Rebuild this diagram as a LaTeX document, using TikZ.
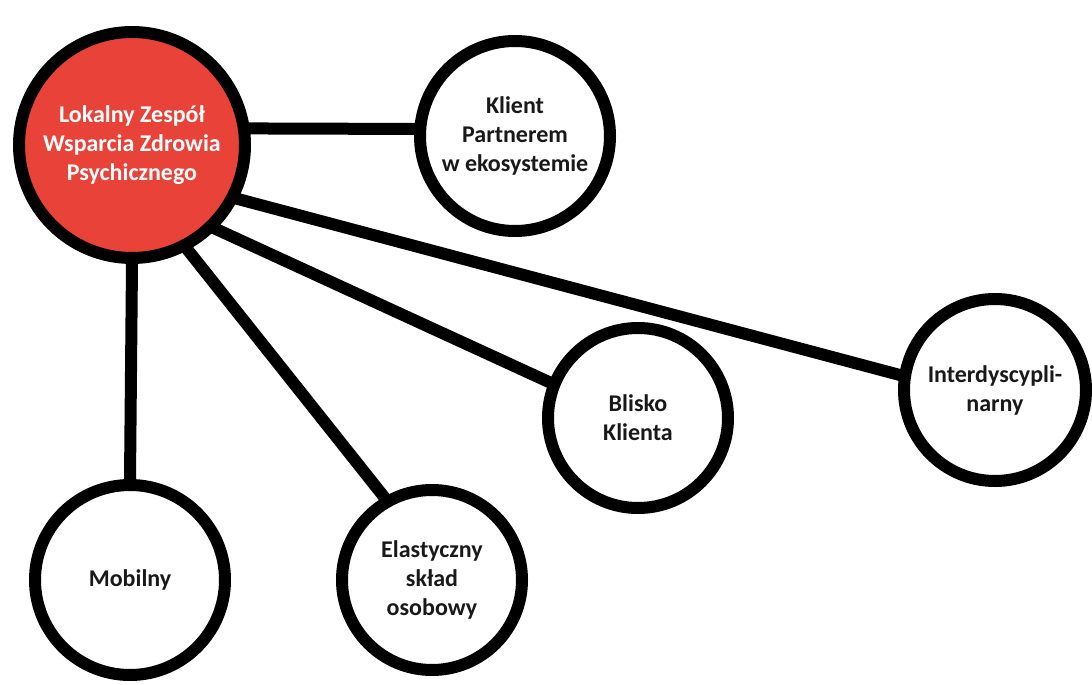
\documentclass[tikz,border=0pt]{standalone}
\usepackage{fontspec}
\setmainfont{Carlito}
\usetikzlibrary{backgrounds}
\definecolor{hubred}{RGB}{233,67,57}
\begin{document}
\begin{tikzpicture}[x=1pt,y=-1pt,
  bub/.style={circle,draw=black,line width=12pt,fill=white,align=center,
    font=\fontsize{24}{29}\selectfont\bfseries,text=black!90,inner sep=0pt},
  link/.style={line width=12pt,draw=black,shorten >=-8pt,shorten <=-8pt}]
\useasboundingbox (0,0) rectangle (1092,685);
\node[bub,fill=hubred,text=white,minimum size=226pt] (c) at (132,145) {Lokalny Zespół\\Wsparcia Zdrowia\\Psychicznego};
\node[bub,minimum size=190pt] (k) at (515,136) {Klient\\Partnerem\\w ekosystemie};
\node[bub,minimum size=182pt] (i) at (995,390) {Interdyscypli-\\narny};
\node[bub,minimum size=180pt] (b) at (638,418) {Blisko\\Klienta};
\node[bub,minimum size=180pt] (e) at (432,580) {Elastyczny\\skład\\osobowy};
\node[bub,minimum size=190pt] (m) at (130,580) {Mobilny};
\begin{pgfonlayer}{background}
\fill[white] (0,0) rectangle (1092,685);
\draw[link] (c.8) -- (k.176);
\draw[link] (c.-27) -- (i.171);
\draw[link] (c.-45) -- (b.158);
\draw[link] (c.-62) -- (e.120);
\draw[link] (c.-90) -- (m.90);
\end{pgfonlayer}
\end{tikzpicture}
\end{document}
